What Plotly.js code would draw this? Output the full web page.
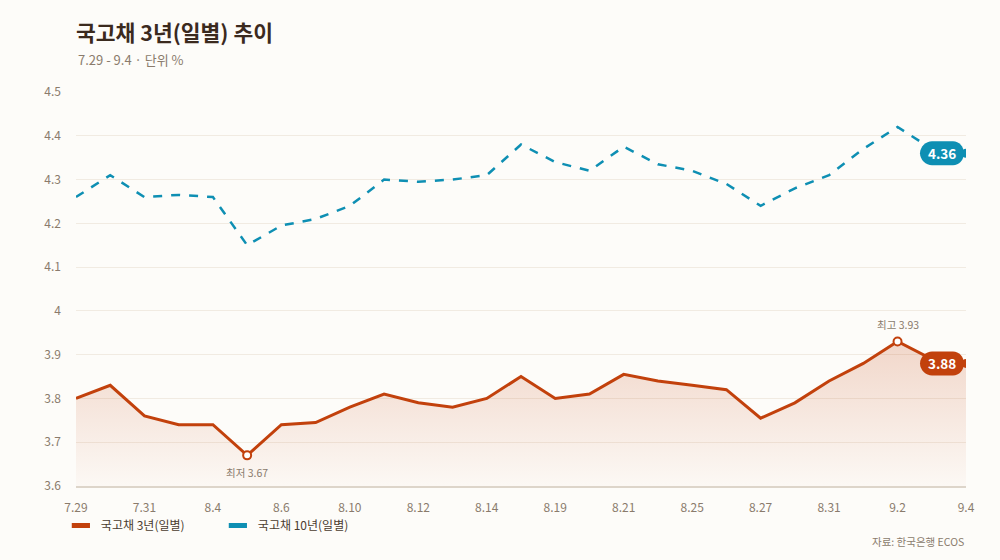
<!DOCTYPE html>
<html>
<head>
<meta charset="utf-8">
<script src="https://cdn.plot.ly/plotly-3.0.1.min.js"></script>
<style>
  html, body { margin: 0; padding: 0; background: #fdfcf9; }
  #plot { width: 1000px; height: 560px; }
</style>
</head>
<body>
<div id="plot"></div>
<script>
// 날짜 (영업일)
var dates = ["7.29", "7.30", "7.31", "8.1", "8.4", "8.5", "8.6", "8.7", "8.10", "8.11",
             "8.12", "8.13", "8.14", "8.18", "8.19", "8.20", "8.21", "8.22", "8.25", "8.26",
             "8.27", "8.28", "8.31", "9.1", "9.2", "9.3", "9.4"];
var tickLabels = ["7.29", "7.31", "8.4", "8.6", "8.10", "8.12", "8.14", "8.19", "8.21",
                  "8.25", "8.27", "8.31", "9.2", "9.4"];

// 국고채 금리 (%)
var y3 = [3.80, 3.83, 3.76, 3.74, 3.74, 3.67, 3.74, 3.745, 3.78, 3.81,
          3.79, 3.78, 3.80, 3.85, 3.80, 3.81, 3.855, 3.84, 3.83, 3.82,
          3.755, 3.79, 3.84, 3.88, 3.93, 3.89, 3.88];
var y10 = [4.26, 4.31, 4.26, 4.265, 4.26, 4.15, 4.195, 4.21, 4.24, 4.30,
           4.295, 4.30, 4.31, 4.38, 4.34, 4.32, 4.375, 4.335, 4.32, 4.29,
           4.24, 4.28, 4.31, 4.37, 4.42, 4.37, 4.36];

var name3 = "국고채 3년(일별)";
var name10 = "국고채 10년(일별)";

var c3 = "#c2410c";
var c10 = "#0e8fb3";
var font = "'Noto Sans CJK KR', 'Noto Sans', sans-serif";

var last = dates.length - 1;
var iMin = y3.indexOf(Math.min.apply(null, y3));
var iMax = y3.indexOf(Math.max.apply(null, y3));

var traces = [
  {
    x: dates, y: y3, type: "scatter", mode: "lines", name: name3, showlegend: false,
    line: { color: c3, width: 3 },
    fill: "tozeroy",
    fillgradient: {
      type: "vertical", start: 3.6, stop: y3[iMax],
      colorscale: [[0, "rgba(194,65,12,0.02)"], [1, "rgba(194,65,12,0.2)"]]
    },
    hoverinfo: "skip"
  },
  {
    x: dates, y: y10, type: "scatter", mode: "lines", name: name10, showlegend: false,
    line: { color: c10, width: 2.5, dash: "dash" },
    hoverinfo: "skip"
  },
  // 최저/최고 점
  {
    x: [dates[iMin], dates[iMax]], y: [y3[iMin], y3[iMax]], type: "scatter", mode: "markers",
    showlegend: false, hoverinfo: "skip",
    marker: { size: 8, color: "#ffffff", line: { color: c3, width: 2 } }
  },
  // 마지막 점
  {
    x: [dates[last], dates[last]], y: [y3[last], y10[last]], type: "scatter", mode: "markers",
    showlegend: false, hoverinfo: "skip",
    marker: { size: 9, color: [c3, c10] }
  },
  // 범례
  {
    x: [null], y: [null], type: "scatter", mode: "markers", name: name3,
    marker: { symbol: "line-ew", size: 13, line: { color: c3, width: 5 } }
  },
  {
    x: [null], y: [null], type: "scatter", mode: "markers", name: name10,
    marker: { symbol: "line-ew", size: 13, line: { color: c10, width: 5 } }
  }
];

function pill(yv, color) {
  return {
    type: "path", xref: "x", yref: "y", xsizemode: "pixel", ysizemode: "pixel",
    xanchor: last, yanchor: yv, layer: "above",
    path: "M -34 -12 L -13 -12 C -7 -12 -2 -6.5 -2 0 C -2 6.5 -7 12 -13 12 L -34 12 " +
          "C -40 12 -46 6.5 -46 0 C -46 -6.5 -40 -12 -34 -12 Z",
    fillcolor: color, line: { width: 0 }
  };
}

var layout = {
  width: 1000, height: 560,
  paper_bgcolor: "#fdfcf9", plot_bgcolor: "#fdfcf9",
  margin: { l: 76, r: 34, t: 92, b: 74 },
  font: { family: font, color: "#8a7b6c", size: 12 },
  title: {
    text: "<b>국고채 3년(일별) 추이</b>",
    font: { family: font, size: 21.5, color: "#3b2a1e" },
    xref: "paper", x: 0, xanchor: "left",
    yref: "container", y: 1 - 33 / 560, yanchor: "middle"
  },
  xaxis: {
    type: "category", range: [0, last],
    tickvals: tickLabels, ticktext: tickLabels,
    showgrid: false, zeroline: false,
    showline: true, linecolor: "#ddd5ca", linewidth: 2,
    ticks: "", ticklabelstandoff: 10,
    tickfont: { size: 12, color: "#8a7b6c" }
  },
  yaxis: {
    range: [3.6, 4.5], dtick: 0.1, tick0: 3.6,
    showgrid: true, gridcolor: "#f1ebe2", gridwidth: 1,
    zeroline: false, showline: false, ticks: "", ticklabelstandoff: 14,
    tickfont: { size: 12, color: "#8a7b6c" }
  },
  showlegend: true,
  legend: {
    orientation: "h", x: -0.017, xanchor: "left", y: -0.1, yanchor: "middle",
    entrywidth: 112, bgcolor: "rgba(0,0,0,0)",
    font: { size: 12, color: "#4a3b2e" }
  },
  shapes: [pill(y3[last], c3), pill(y10[last], c10)],
  annotations: [
    {
      text: "7.29 - 9.4 · 단위 %", xref: "paper", yref: "paper", x: 0, y: 1 + 32 / 394,
      xanchor: "left", yanchor: "middle", showarrow: false,
      font: { size: 13, color: "#8a7b6c" }
    },
    {
      text: "최저 " + y3[iMin].toFixed(2), x: iMin, y: y3[iMin], yshift: -8,
      showarrow: false, yanchor: "top", font: { size: 10.5, color: "#8a7b6c" }
    },
    {
      text: "최고 " + y3[iMax].toFixed(2), x: iMax, y: y3[iMax], yshift: 8,
      showarrow: false, yanchor: "bottom", font: { size: 10.5, color: "#8a7b6c" }
    },
    {
      text: "<b>" + y3[last].toFixed(2) + "</b>", x: last, y: y3[last], xshift: -24,
      showarrow: false, font: { size: 13.5, color: "#ffffff" }
    },
    {
      text: "<b>" + y10[last].toFixed(2) + "</b>", x: last, y: y10[last], xshift: -24,
      showarrow: false, font: { size: 13.5, color: "#ffffff" }
    },
    {
      text: "자료: 한국은행 ECOS", xref: "paper", yref: "paper", x: 1, y: -55 / 394,
      xanchor: "right", yanchor: "middle", showarrow: false,
      font: { size: 10.5, color: "#8a7b6c" }
    }
  ]
};

Plotly.newPlot("plot", traces, layout, { displayModeBar: false, staticPlot: true });
</script>
</body>
</html>
